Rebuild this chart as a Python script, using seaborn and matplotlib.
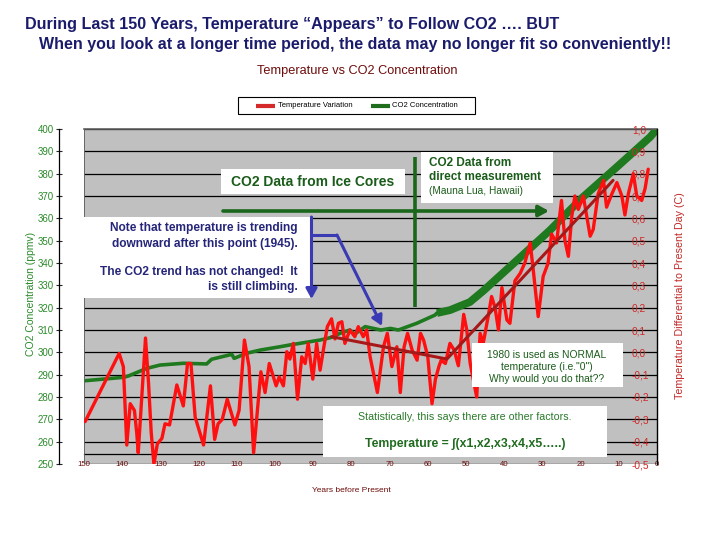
import matplotlib
matplotlib.use("Agg")
import matplotlib.pyplot as plt
import seaborn as sns
import pandas as pd
from matplotlib import font_manager
from matplotlib.patches import Rectangle, FancyArrowPatch
from matplotlib.lines import Line2D

# ---------------- data ----------------
temp_years = [149.7, 140.8, 139.7, 138.8, 137.9, 136.8, 136.2, 135.8, 133.9, 133.1, 132.4, 131.7,
              130.8, 129.6, 128.8, 127.6, 125.7, 124.0, 122.9, 122.0, 120.9, 118.7, 116.9, 115.8,
              114.9, 113.8, 112.5, 110.5, 109.4, 108.0, 106.8, 105.6, 103.7, 102.6, 101.5, 99.7,
              98.9, 97.8, 96.9, 96.1, 95.2, 94.1, 93.0, 92.1, 91.3, 90.1, 89.1, 88.2, 87.2, 86.3,
              85.2, 84.3, 83.4, 82.5, 81.7, 80.4, 79.1, 78.2, 76.9, 76.0, 75.1, 73.2, 71.6, 70.6,
              69.4, 68.1, 67.2, 66.2, 65.3, 64.1, 62.8, 61.9, 61.1, 60.0, 58.9, 58.0, 57.1, 56.5,
              55.4, 54.2, 53.1, 52.0, 50.6, 49.8, 48.9, 47.2, 46.3, 45.5, 44.2, 43.3, 42.4, 41.5,
              40.6, 39.3, 38.5, 37.2, 35.8, 34.6, 33.2, 32.4, 31.1, 29.8, 28.5, 27.6, 26.3, 25.0,
              24.1, 23.2, 22.3, 21.5, 20.6, 19.3, 18.4, 17.5, 16.7, 15.4, 14.0, 13.2, 11.8, 10.5,
              9.2, 8.4, 7.5, 6.2, 5.3, 4.0, 3.1, 2.3]
temp_values = [-0.31, -0.005, -0.064, -0.415, -0.23, -0.26, -0.36, -0.45, 0.064, -0.14, -0.36, -0.50,
               -0.41, -0.385, -0.32, -0.325, -0.146, -0.24, -0.05, -0.05, -0.29, -0.415, -0.15, -0.39,
               -0.32, -0.30, -0.21, -0.325, -0.26, 0.055, -0.064, -0.45, -0.087, -0.18, -0.05, -0.15,
               -0.11, -0.15, 0.003, -0.03, 0.04, -0.21, -0.02, -0.05, 0.04, -0.12, 0.04, -0.08, 0.025, 0.115,
               0.15, 0.06, 0.13, 0.137, 0.04, 0.10, 0.07, 0.115, 0.07, 0.10, -0.02, -0.18, 0.025, 0.085,
               -0.064, 0.025, -0.18, 0.025, 0.085, 0.01, -0.035, 0.085, 0.055, -0.02, -0.23, -0.12, -0.064, -0.035,
               -0.05, 0.04, 0.01, -0.06, 0.17, 0.10, -0.05, -0.20, 0.085, 0.04, 0.16, 0.25, 0.20, 0.10,
               0.29, 0.145, 0.13, 0.32, 0.354, 0.40, 0.49, 0.37, 0.16, 0.34, 0.40, 0.53, 0.49, 0.68,
               0.50, 0.43, 0.61, 0.70, 0.64, 0.70, 0.61, 0.52, 0.55, 0.71, 0.77, 0.65, 0.71, 0.76,
               0.70, 0.615, 0.71, 0.80, 0.70, 0.68, 0.735, 0.82]

co2_ice_years = [149.7, 139.7, 138.4, 133.6, 130.1, 124.0, 117.9, 116.6, 111.3, 110.7, 107.4, 103.9,
                 98.7, 96.1, 88.2, 85.2, 83.0, 80.4, 79.1, 76.4, 72.3, 69.8, 67.7, 62.9, 58.1, 57.6]
co2_ice_ppm = [287.3, 288.8, 289.4, 292.8, 294.3, 295.1, 294.8, 296.9, 299.1, 297.3, 299.6, 301.0,
               302.5, 303.3, 305.5, 306.7, 308.5, 310.0, 308.2, 311.5, 310.0, 310.7, 310.0, 313.0, 316.7, 317.6]

co2_ml_years = [57.6, 54.2, 49.0, 45.5, 36.6, 28.0, 19.4, 10.5, 1.8, 0.0]
co2_ml_ppm = [317.6, 318.9, 322.5, 327.5, 341.3, 354.7, 369.5, 383.0, 396.4, 400.0]

trend_years = [85.2, 55.0, 11.5]
trend_values = [0.07, -0.03, 0.77]

x_ticks = [150, 140, 130, 120, 110, 100, 90, 80, 70, 60, 50, 40, 30, 20, 10, 0]
x_labels = ["150", "140", "130", "120", "110", "100", "90", "80", "70", "60", "50", "40", "30", "20", "10", "0"]
left_ticks = [250, 260, 270, 280, 290, 300, 310, 320, 330, 340, 350, 360, 370, 380, 390, 400]
right_ticks = [-0.5, -0.4, -0.3, -0.2, -0.1, 0.0, 0.1, 0.2, 0.3, 0.4, 0.5, 0.6, 0.7, 0.8, 0.9, 1.0]
right_labels = ["-0,5", "-0,4", "-0,3", "-0,2", "-0,1", "0,0", "0,1", "0,2", "0,3", "0,4", "0,5",
                "0,6", "0,7", "0,8", "0,9", "1,0"]

# ---------------- style ----------------
sns.set_style("white")
names = {f.name for f in font_manager.fontManager.ttflist}
SANS = "Liberation Sans" if "Liberation Sans" in names else "DejaVu Sans"
NARROW = "Liberation Sans Narrow" if "Liberation Sans Narrow" in names else SANS
plt.rcParams["font.family"] = [SANS, "DejaVu Sans"]

RED = "#ff1010"
TREND = "#a81818"
GREEN = "#1f7a1f"
DKGREEN = "#1a5c1a"
NAVY = "#25257a"
TITLE = "#1b1b6b"
MAROON = "#6e0c0c"
BLUE = "#3a3ab4"

W, H = 720, 540
fig = plt.figure(figsize=(7.2, 5.4), dpi=100)
fig.patch.set_facecolor("white")


def fx(x):
    return x / W


def fy(y):
    return 1 - y / H


renderer = fig.canvas.get_renderer()


def fit(t, target, vertical=False):
    bb = t.get_window_extent(renderer)
    cur = bb.height if vertical else bb.width
    t.set_fontsize(t.get_fontsize() * target / cur)
    return t.get_fontsize()


# ---------------- axes ----------------
ax = fig.add_axes([fx(84), fy(464), (657 - 84) / W, (464 - 129) / H])
ax.set_facecolor("#c0c0c0")
ax.set_xlim(150, 0)
ax.set_ylim(250, 400)
ax.set_yticks(left_ticks)
ax.set_yticklabels([str(v) for v in left_ticks])
ax.yaxis.grid(True, color="black", lw=0.9)
ax.xaxis.grid(False)
ax.set_axisbelow(True)

ice = pd.DataFrame({"year": co2_ice_years, "ppm": co2_ice_ppm})
ml = pd.DataFrame({"year": co2_ml_years, "ppm": co2_ml_ppm})
sns.lineplot(data=ice, x="year", y="ppm", ax=ax, color=GREEN, lw=2.6, sort=False, estimator=None)
sns.lineplot(data=ml, x="year", y="ppm", ax=ax, color=GREEN, lw=5.6, sort=False, estimator=None,
             solid_capstyle="butt", solid_joinstyle="round")
ax.axvline(150, color="#606060", lw=1.3, zorder=3)

ax.set_xticks(x_ticks)
ax.set_xticklabels(x_labels, fontfamily=NARROW, fontweight="bold")
ax.set_xlabel("")
ax.set_ylabel("")
ax.spines["right"].set_visible(False)
ax.spines["top"].set_color("#606060")
ax.spines["top"].set_linewidth(1.2)
ax.spines["left"].set_position(("outward", 18))
ax.spines["left"].set_color("black")
ax.spines["left"].set_linewidth(0.9)
ax.spines["bottom"].set_position(("outward", -7))
ax.spines["bottom"].set_color("black")
ax.spines["bottom"].set_linewidth(0.9)
ax.tick_params(axis="x", direction="inout", length=5, width=0.8, pad=2.0, labelsize=5.6,
               colors="black")
ax.tick_params(axis="x", labelcolor=MAROON)
ax.tick_params(axis="y", direction="inout", length=5, width=0.8, pad=1.5, labelsize=7,
               labelcolor="#2a8a2a")

ax2 = ax.twinx()
ax2.set_ylim(-0.5, 1.0)
temp = pd.DataFrame({"year": temp_years, "temp": temp_values})
trend = pd.DataFrame({"year": trend_years, "temp": trend_values})
sns.lineplot(data=temp, x="year", y="temp", ax=ax2, color=RED, lw=2.4, sort=False, estimator=None)
sns.lineplot(data=trend, x="year", y="temp", ax=ax2, color=TREND, lw=2.2, sort=False, estimator=None)
ax2.set_xlim(150, 0)
ax2.set_yticks(right_ticks)
ax2.set_yticklabels(right_labels)
ax2.set_ylabel("")
for s in ["left", "top", "bottom"]:
    ax2.spines[s].set_visible(False)
ax2.spines["right"].set_color("black")
ax2.spines["right"].set_linewidth(1.0)
ax2.tick_params(axis="y", length=0, pad=-18, labelsize=7.3, labelcolor="#d02828")

# ---------------- titles ----------------
t1 = fig.text(fx(25), fy(28.5), "During Last 150 Years, Temperature \u201cAppears\u201d to Follow CO2 \u2026. BUT",
              fontfamily=NARROW, fontweight="bold", fontsize=13, color=TITLE, ha="left", va="baseline")
fit(t1, 535)
t2 = fig.text(fx(39), fy(49.5), "When you look at a longer time period, the data may no longer fit so conveniently!!",
              fontfamily=NARROW, fontweight="bold", fontsize=13, color=TITLE, ha="left", va="baseline")
fit(t2, 628)
st = fig.text(fx(357), fy(71), "Temperature vs CO2 Concentration", fontfamily=NARROW,
              fontsize=9, color=MAROON, ha="center", va="center")
fit(st, 202)

# ---------------- legend ----------------
fig.add_artist(Rectangle((fx(238), fy(114)), (475 - 238) / W, (114 - 97) / H, transform=fig.transFigure,
                         facecolor="white", edgecolor="black", lw=0.8))
fig.add_artist(Line2D([fx(256), fx(275)], [fy(105.5), fy(105.5)], transform=fig.transFigure,
                      color="#d42a2a", lw=3, solid_capstyle="butt"))
fig.add_artist(Line2D([fx(371), fx(390)], [fy(105.5), fy(105.5)], transform=fig.transFigure,
                      color="#1e6e1e", lw=3, solid_capstyle="butt"))
lt1 = fig.text(fx(278), fy(105.5), "Temperature Variation", fontsize=5, color="black", ha="left", va="center")
fit(lt1, 76)
lt2 = fig.text(fx(392), fy(105.5), "CO2 Concentration", fontsize=5, color="black", ha="left", va="center")
fit(lt2, 66)

# ---------------- axis labels ----------------
yl = fig.text(fx(31), fy(294), "CO2 Concentration (ppmv)", rotation=90, fontsize=7, color="#2a8a2a",
              ha="center", va="center")
fit(yl, 124, vertical=True)
yr = fig.text(fx(680), fy(296), "Temperature Differential to Present Day (C)", rotation=90, fontsize=7,
              color="#c02828", ha="center", va="center")
fit(yr, 205, vertical=True)
xl = fig.text(fx(351), fy(490), "Years before Present", fontsize=5.5, color=MAROON, ha="center", va="center")
fit(xl, 79)


# ---------------- annotations ----------------
def box(x0, y0, x1, y1):
    fig.add_artist(Rectangle((fx(x0), fy(y1)), (x1 - x0) / W, (y1 - y0) / H, transform=fig.transFigure,
                             facecolor="white", edgecolor="none", zorder=4))


def line(xs, ys, color, lw, z=5):
    fig.add_artist(Line2D([fx(v) for v in xs], [fy(v) for v in ys], transform=fig.transFigure,
                          color=color, lw=lw, zorder=z, solid_capstyle="butt"))


def arrow(p0, p1, color, lw, z=5):
    fig.add_artist(FancyArrowPatch((fx(p0[0]), fy(p0[1])), (fx(p1[0]), fy(p1[1])), transform=fig.transFigure,
                                   arrowstyle="-|>,head_length=4,head_width=2.2", mutation_scale=1.5,
                                   color=color, lw=lw, zorder=z, shrinkA=0, shrinkB=0))


def txt(x, y, s, size, color, ha="left", weight="normal", family=None):
    return fig.text(fx(x), fy(y), s, fontsize=size, color=color, ha=ha, va="center", fontweight=weight,
                    fontfamily=family if family else [SANS, "DejaVu Sans"], zorder=6)


# Ice cores box
box(221, 169, 405, 194)
ti = txt(313, 181.5, "CO2 Data from Ice Cores", 9, DKGREEN, ha="center", weight="bold")
fit(ti, 164)

# direct measurement box
box(421, 152, 553, 203)
d2 = txt(429, 177, "direct measurement", 8, DKGREEN, weight="bold")
sz = fit(d2, 113)
txt(429, 163, "CO2 Data from", sz, DKGREEN, weight="bold")
d3 = txt(429, 191.5, "(Mauna Lua, Hawaii)", 6.5, DKGREEN)
fit(d3, 94)

# green marker lines
line([415, 415], [157, 307], "#1a661a", 2.6)
arrow((223, 211), (549, 211), "#1a661a", 2.6)

# note box
box(82, 217, 310, 298)
n1 = txt(298, 228.5, "Note that temperature is trending", 7.5, NAVY, ha="right", weight="bold")
nsz = fit(n1, 188)
txt(298, 243.5, "downward after this point (1945).", nsz, NAVY, ha="right", weight="bold")
txt(298, 271.5, "The CO2 trend has not changed!  It", nsz, NAVY, ha="right", weight="bold")
txt(298, 287, "is still climbing.", nsz, NAVY, ha="right", weight="bold")

# blue arrows
arrow((311.5, 217), (311.5, 299), BLUE, 2.2)
line([311.5, 337], [235, 235], BLUE, 2.2)
arrow((337, 235), (382, 326), BLUE, 2.2)

# 1980 box
box(472, 343, 623, 387)
b1 = txt(547, 354.5, "1980 is used as NORMAL", 7, DKGREEN, ha="center")
bsz = fit(b1, 119)
txt(547, 366.5, "temperature (i.e.\"0\")", bsz, DKGREEN, ha="center")
txt(547, 379, "Why would you do that??", bsz, DKGREEN, ha="center")

# statistically box
box(323, 406, 607, 457)
s1 = txt(465, 417, "Statistically, this says there are other factors.", 6, "#2a7a2a", ha="center")
fit(s1, 214)
s2 = txt(465, 444.5, "Temperature = \u222b(x1,x2,x3,x4,x5\u2026..)", 8.5, "#1e6b1e", ha="center", weight="bold",
         family=[NARROW, "DejaVu Sans"])
fit(s2, 200)

fig.savefig("out.png", dpi=100, facecolor="white")
